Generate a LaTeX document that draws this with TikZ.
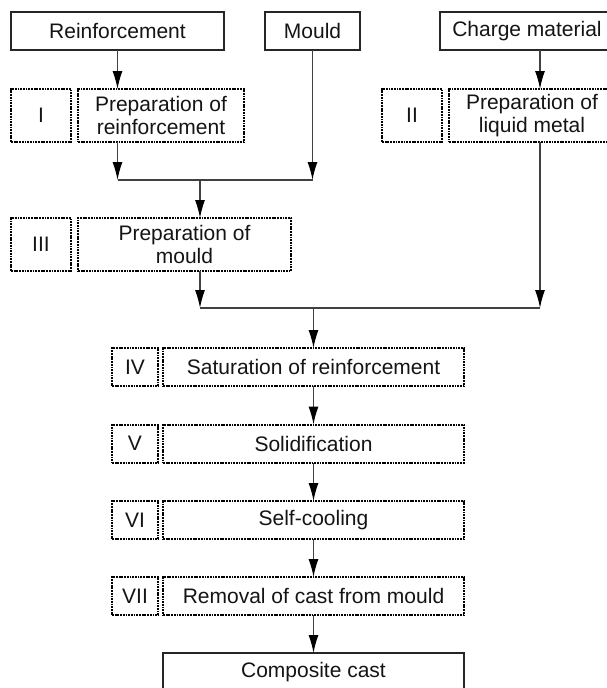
\documentclass[tikz,border=0pt]{standalone}
\usepackage{fontspec}
\setmainfont{Liberation Sans}
\usetikzlibrary{arrows.meta}

\begin{document}
\begin{tikzpicture}[x=1pt, y=-1pt,
  every node/.style={font=\fontsize{21}{23}\selectfont, text=black!92, inner sep=0pt, outer sep=0pt, align=center},
  inbox/.style={draw=black!85, line width=1.2pt, minimum height=38pt},
  stagebox/.style={draw=black, line width=2pt, dash pattern=on 1.8pt off 0.9pt},
  numbox/.style={stagebox, minimum width=60pt},
  wire/.style={draw=black!75, line width=1.2pt},
  arr/.style={wire, -{Latex[length=18pt,width=10pt,color=black]}}]
\useasboundingbox (0,0) rectangle (607,688);
% raw materials
\node[inbox, minimum width=213pt] (reinf) at (117.5,31) {Reinforcement};
\node[inbox, minimum width=95pt] (mould) at (312.5,31) {Mould};
\node[inbox, minimum width=174pt] (charge) at (527,31) {Charge material};
% stages I, II, III
\node[numbox, minimum height=53pt] (numI) at (41,115.5) {I};
\node[stagebox, minimum width=166pt, minimum height=53pt] (prepR) at (161,115.5) {Preparation of\\reinforcement};
\node[numbox, minimum height=53pt] (numII) at (412,115.5) {II};
\node[stagebox, minimum width=166pt, minimum height=53pt] (prepL) at (532,115.5) {Preparation of\\liquid metal};
\node[numbox, minimum height=53pt] (numIII) at (41,244.5) {III};
\node[stagebox, minimum width=213pt, minimum height=53pt] (prepM) at (184.5,244.5) {Preparation of\\mould};
% stages IV to VII
\node[stagebox, minimum width=46pt, minimum height=38pt] (numIV) at (135,367) {IV};
\node[stagebox, minimum width=301pt, minimum height=38pt] (satur) at (313.5,367) {Saturation of reinforcement};
\node[stagebox, minimum width=46pt, minimum height=38pt] (numV) at (135,443.5) {V};
\node[stagebox, minimum width=301pt, minimum height=38pt] (solid) at (313.5,443.5) {Solidification};
\node[stagebox, minimum width=46pt, minimum height=38pt] (numVI) at (135,520) {VI};
\node[stagebox, minimum width=301pt, minimum height=38pt] (cool) at (313.5,520) {Self-cooling};
\node[stagebox, minimum width=46pt, minimum height=38pt] (numVII) at (135,596) {VII};
\node[stagebox, minimum width=301pt, minimum height=38pt] (remove) at (313.5,596) {Removal of cast from mould};
\node[inbox, minimum width=301pt] (cast) at (313.5,672) {Composite cast};
% junctions
\coordinate (j1) at (200,180);
\coordinate (j2) at (313.5,308);
\coordinate (lm) at (540,308);
% connectors
\draw[arr] (reinf) -- (reinf |- prepR.north);
\draw[arr] (reinf |- prepR.south) -- (reinf |- j1);
\draw[arr] (mould) -- (mould |- j1);
\draw[wire] (reinf |- j1) -- (mould |- j1);
\draw[arr] (j1) -- (j1 |- prepM.north);
\draw[arr] (j1 |- prepM.south) -- (j1 |- j2);
\draw[arr] (charge.south -| lm) -- (prepL.north -| lm);
\draw[arr] (prepL.south -| lm) -- (lm);
\draw[wire] (j1 |- j2) -- (lm);
\draw[arr] (j2) -- (satur.north);
\draw[arr] (satur) -- (solid);
\draw[arr] (solid) -- (cool);
\draw[arr] (cool) -- (remove);
\draw[arr] (remove) -- (cast);
\end{tikzpicture}
\end{document}
